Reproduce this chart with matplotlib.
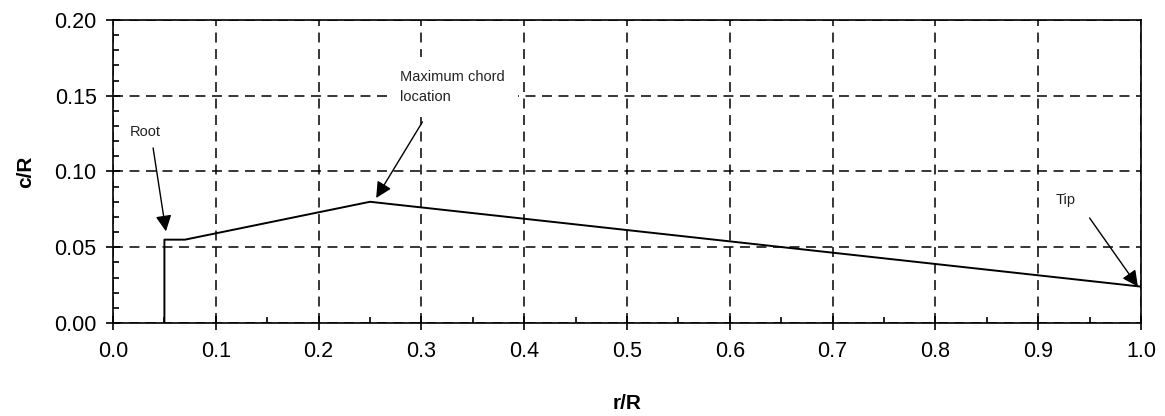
import numpy as np
import matplotlib.pyplot as plt
from matplotlib.ticker import MultipleLocator

plt.rcParams['font.family'] = ['Liberation Sans', 'DejaVu Sans']

# blade chord distribution
r_R = [0.05, 0.05, 0.07, 0.25, 1.0]
c_R = [0.0, 0.055, 0.055, 0.08, 0.024]

# annotations: text, text position (left, centre), arrow start, arrow tip, white box
notes = [
    ("Root", (0.0165, 0.126), (0.039, 0.1155), (0.0515, 0.0605), False),
    ("Maximum chord\nlocation", (0.2796, 0.1558), (0.301, 0.1327), (0.256, 0.0825), True),
    ("Tip", (0.9165, 0.0812), (0.950, 0.0693), (0.997, 0.0240), False),
]

fig = plt.figure(figsize=(11.65, 4.16), dpi=100)
ax = fig.add_axes([0.097, 0.2236, 0.8824, 0.7284])

ax.plot(r_R, c_R, color='black', lw=1.4, zorder=3)

ax.set_xlim(0, 1.0)
ax.set_ylim(0, 0.20)
ax.xaxis.set_major_locator(MultipleLocator(0.1))
ax.xaxis.set_minor_locator(MultipleLocator(0.05))
ax.yaxis.set_major_locator(MultipleLocator(0.05))
ax.yaxis.set_minor_locator(MultipleLocator(0.01))
ax.xaxis.set_major_formatter(plt.FormatStrFormatter('%.1f'))
ax.yaxis.set_major_formatter(plt.FormatStrFormatter('%.2f'))
ax.tick_params(which='major', direction='inout', length=9.5, width=1.2,
               labelsize=15.5, colors='black')
ax.tick_params(axis='x', which='major', pad=8)
ax.tick_params(axis='y', which='major', pad=7)
ax.tick_params(which='minor', direction='in', length=4.5, width=1.2)
for s in ax.spines.values():
    s.set_linewidth(1.2)

ax.grid(True, which='major', color='black', ls=(0, (6.5, 4.3)), lw=1.1)

ax.set_xlabel('r/R', fontsize=15, fontweight='bold', labelpad=23)
ax.set_ylabel('c/R', fontsize=15, fontweight='bold', labelpad=14)

for txt, tpos, start, tip, boxed in notes:
    box = dict(facecolor='white', edgecolor='none', pad=9) if boxed else None
    ax.text(tpos[0], tpos[1], txt, fontsize=10.5, ha='left', va='center',
            linespacing=1.55, color='#222222', zorder=4, bbox=box)
    ax.annotate('', xy=tip, xytext=start, zorder=5,
                arrowprops=dict(arrowstyle='-|>', color='black', lw=1.0,
                                mutation_scale=24, shrinkA=0, shrinkB=0))

fig.savefig('out.png', dpi=100)
